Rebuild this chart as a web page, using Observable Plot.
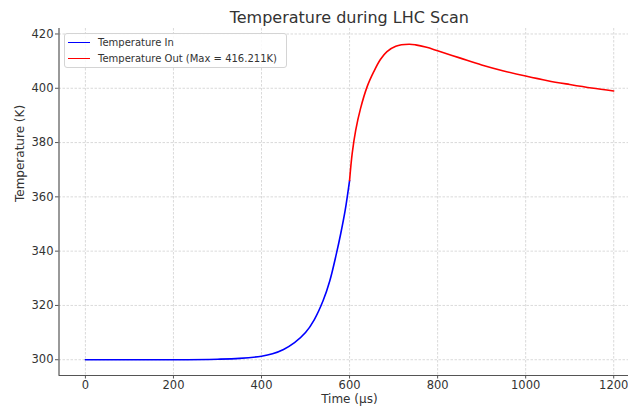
<!DOCTYPE html>
<html><head><meta charset="utf-8">
<script src="https://cdn.jsdelivr.net/npm/d3@7"></script>
<script src="https://cdn.jsdelivr.net/npm/@observablehq/plot@0.6"></script>
<style>
html,body{margin:0;padding:0;background:#fff;overflow:hidden}
#wrap{position:relative;width:628px;height:407px;font-family:"DejaVu Sans",sans-serif}
#wrap svg{display:block}
.legend{position:absolute;left:64px;top:33px;width:221px;height:33px;border:1px solid #d4d4d4;border-radius:3px;background:rgba(255,255,255,0.85);font-size:10px;color:#333;box-sizing:content-box}
.item{position:absolute;left:3px;height:14px;line-height:14px;white-space:nowrap}
.item .sw{display:inline-block;width:22px;height:0;vertical-align:middle;margin-right:8px;position:relative;top:-1px}
</style></head><body><div id="wrap"></div>
<script>
const title = "Temperature during LHC Scan";
const xLabel = "Time (µs)";
const yLabel = "Temperature (K)";
const xTicks = [0, 200, 400, 600, 800, 1000, 1200];
const yTicks = [300, 320, 340, 360, 380, 400, 420];

const inTime = [0, 100, 200, 300, 350, 400, 425, 450, 475, 500, 520, 540, 555, 570, 580, 590, 600];
const inTemp = [300, 300, 300, 300.2, 300.5, 301.3, 302.2, 303.8, 306.3, 310, 314.8, 321.8, 329, 339, 346.5, 355, 366];

const outTime = [600, 606, 614, 625, 640, 655, 670, 685, 705, 735, 750, 775, 800, 850, 900, 950, 1000, 1050, 1100, 1150, 1200];
const outTemp = [366, 376, 384.6, 392.6, 400.6, 406.1, 410.6, 413.5, 415.5, 416.211, 416.0, 415.1, 413.8, 411.2, 408.6, 406.4, 404.5, 402.8, 401.4, 400.1, 399.0];

const maxOut = 416.211;
const seriesNames = ["Temperature In", `Temperature Out (Max = ${maxOut}K)`];
const seriesColors = ["#0000ff", "#ff0000"];

const inData = inTime.map((t, i) => ({t, v: inTemp[i]}));
const outData = outTime.map((t, i) => ({t, v: outTemp[i]}));

const gridStyle = {stroke: "#b0b0b0", strokeOpacity: 0.6, strokeDasharray: "2.5,1.5", strokeWidth: 0.8};
const xDom = [-60, 1233.6];
const yDom = [294.19, 422.02];

const chart = Plot.plot({
  width: 628, height: 407,
  marginLeft: 58.5, marginRight: 0, marginTop: 28, marginBottom: 32,
  style: {fontFamily: "DejaVu Sans, sans-serif", fontSize: "11.5px", color: "#333", background: "white", overflow: "visible"},
  x: {domain: xDom},
  y: {domain: yDom},
  marks: [
    Plot.gridX(xTicks, gridStyle),
    Plot.gridY(yTicks, gridStyle),
    Plot.line(inData, {x: "t", y: "v", stroke: seriesColors[0], strokeWidth: 1.6, curve: "catmull-rom"}),
    Plot.line(outData, {x: "t", y: "v", stroke: seriesColors[1], strokeWidth: 1.6, curve: "catmull-rom"}),
    Plot.ruleX([xDom[0]], {stroke: "#555", strokeWidth: 1.2}),
    Plot.ruleY([yDom[0]], {stroke: "#555", strokeWidth: 1.2}),
    Plot.axisX(xTicks, {tickSize: 3.5, tickPadding: 2, stroke: "#555", fill: "#333", label: null, tickFormat: d => String(d), fontSize: 11.5}),
    Plot.axisY(yTicks, {tickSize: 3.5, tickPadding: 2, stroke: "#555", fill: "#333", label: null, tickFormat: d => String(d), fontSize: 11.5}),
    Plot.text([title], {frameAnchor: "top", dx: 5.6, dy: -11, lineAnchor: "middle", fontSize: 16, fill: "#333"}),
    Plot.text([xLabel], {frameAnchor: "bottom", dx: 5.6, dy: 24, lineAnchor: "middle", fontSize: 12, fill: "#333"}),
    Plot.text([yLabel], {frameAnchor: "left", dx: -38.5, dy: 0, lineAnchor: "middle", rotate: -90, fontSize: 12, fill: "#333"})
  ]
});

const wrap = document.getElementById("wrap");
wrap.appendChild(chart);

const legend = document.createElement("div");
legend.className = "legend";
seriesNames.forEach((name, i) => {
  const item = document.createElement("div");
  item.className = "item";
  item.style.top = (2 + i * 16) + "px";
  const sw = document.createElement("span");
  sw.className = "sw";
  sw.style.borderTop = "1.6px solid " + seriesColors[i];
  item.appendChild(sw);
  item.appendChild(document.createTextNode(name));
  legend.appendChild(item);
});
wrap.appendChild(legend);
</script>
</body></html>
